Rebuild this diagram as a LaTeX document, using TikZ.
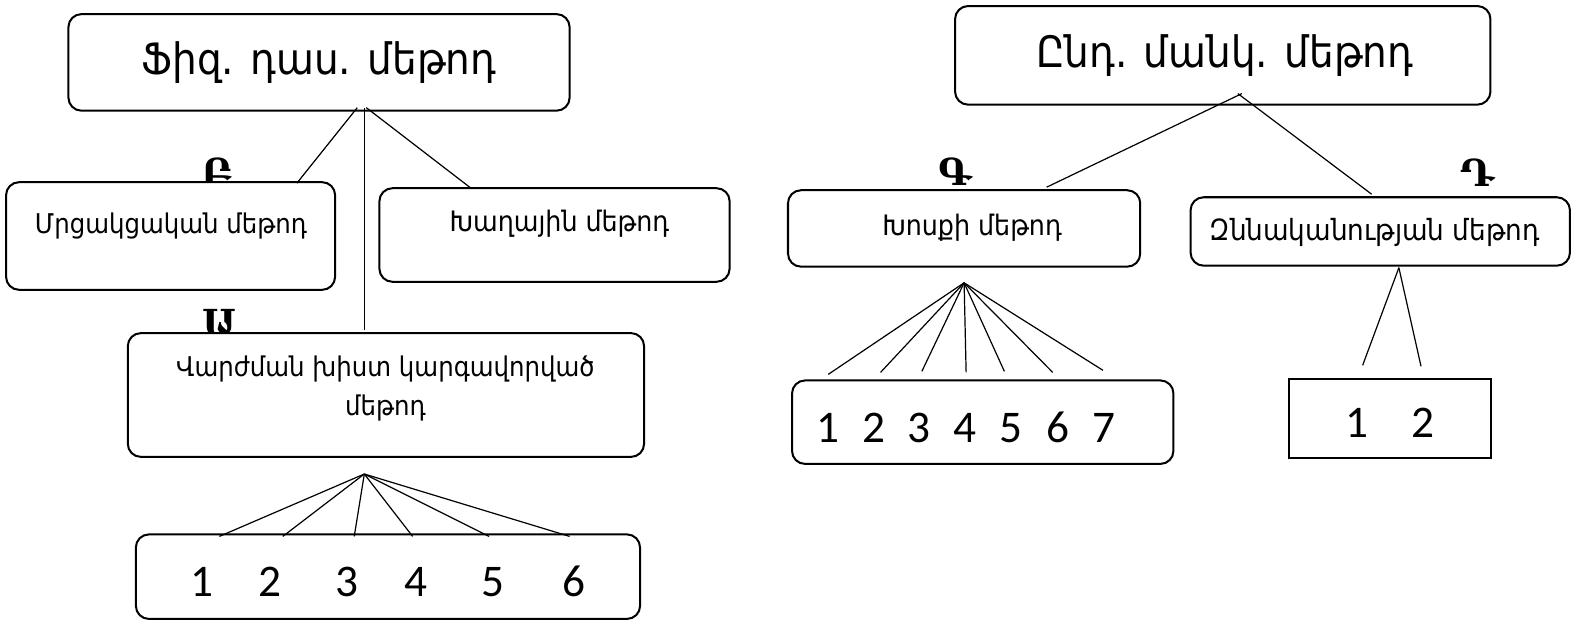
\documentclass[tikz,border=0pt]{standalone}
\usepackage{fontspec}
\setmainfont{DejaVu Sans Condensed}
\newfontfamily\digitfont{Carlito}
\newfontfamily\letterfont{DejaVu Serif}
\tikzset{
  x=1pt, y=-1pt,
  box/.style={draw, line width=2pt, rounded corners=13pt, fill=white,
    inner sep=0pt, outer sep=0pt},
  sqbox/.style={draw, line width=2pt, fill=white, inner sep=0pt, outer sep=0pt},
  conn/.style={line width=1.2pt},
  bigtxt/.style={inner sep=0pt, font=\fontsize{43}{47}\selectfont},
  txt/.style={inner sep=0pt, align=center},
  digit/.style={inner sep=0pt, font=\digitfont\fontsize{45}{50}\selectfont},
  tag/.style={inner sep=0pt, font=\letterfont\bfseries\fontsize{37}{40}\selectfont},
}
\newcommand\fs[1]{\fontsize{#1}{38}\selectfont}
\begin{document}
\begin{tikzpicture}
\useasboundingbox (0,0) rectangle (1568,618);

% letter tags (partly covered by the boxes drawn afterwards)
\node[tag] (tagB) at (216,171) {Բ};
\node[tag] (tagA) at (219,321) {Ա};
\node[tag] (tagG) at (949,171) {Գ};
\node[tag] (tagD) at (1468,172) {Դ};

% left tree
\node[box, minimum width=498pt, minimum height=96pt] (fiz) at (317,62) {};
\node[bigtxt] (fizt) at (317,62) {Ֆիզ. դաս. մեթոդ};

\node[box, minimum width=327pt, minimum height=107pt] (mrc) at (169.5,234.5) {};
\node[txt, font=\fs{27}] (mrct) at (170,225) {Մրցակցական մեթոդ};

\node[box, minimum width=348pt, minimum height=93pt] (xax) at (551,233.5) {};
\node[txt, font=\fs{28}] (xaxt) at (556,222) {Խաղային մեթոդ};

\node[box, minimum width=513pt, minimum height=123pt] (varj) at (383.5,392.5) {};
\node[txt, font=\fs{27}] (varjt) at (383,386) {Վարժման խիստ կարգավորված\\մեթոդ};

\node[box, minimum width=501pt, minimum height=84pt] (nl) at (385.5,573) {};
\foreach \n/\x in {1/201,2/268,3/345,4/413,5/490,6/570}
  \node[digit] (ld\n) at (\x,578) {\n};

% right tree
\node[box, minimum width=532pt, minimum height=98pt] (end) at (1215,55) {};
\node[bigtxt] (endt) at (1217,55) {Ընդ. մանկ. մեթոդ};

\node[box, minimum width=350pt, minimum height=76pt] (xos) at (958,227) {};
\node[txt, font=\fs{28}] (xost) at (966,226) {Խոսքի մեթոդ};

\node[box, minimum width=377pt, minimum height=68pt] (znn) at (1371.5,230) {};
\node[txt, font=\fs{29}] (znnt) at (1366,231) {Զննականության մեթոդ};

\node[box, minimum width=379pt, minimum height=83pt] (nr) at (976.5,419.5) {};
\foreach \n/\x in {1/823,2/868,3/913,4/959,5/1005,6/1051,7/1097}
  \node[digit] (rd\n) at (\x,425) {\n};

\node[sqbox, minimum width=201pt, minimum height=78pt] (nz) at (1381.5,416) {};
\node[digit] (zd1) at (1348,420) {1};
\node[digit] (zd2) at (1414,420) {2};

% connectors, drawn over the boxes
\coordinate (p1) at (355,107);
\coordinate (p2) at (362,107);
\coordinate (p3) at (364,107);
\coordinate (q1) at (295,182);
\coordinate (q2) at (362,328);
\coordinate (q3) at (468,187);
\coordinate (r1) at (1234,93);
\coordinate (r2) at (1230,93);
\coordinate (s1) at (1040,186);
\coordinate (s2) at (1363,193);

\draw[conn] (p1) -- (q1);
\draw[conn] (p2) -- (q2);
\draw[conn] (p3) -- (q3);
\draw[conn] (r1) -- (s1);
\draw[conn] (r2) -- (s2);

\coordinate (lf) at (362,471);
\foreach \n/\x in {1/218,2/281,3/352,4/410,5/486,6/566}
  \coordinate (lf\n) at (\x,533);
\foreach \n in {1,...,6}
  \draw[conn] (lf) -- (lf\n);

\coordinate (rf) at (958,281);
\foreach \n/\x/\y in {1/823/372,2/875/370,3/916/369,4/960/370,5/998/369,6/1046/370,7/1096/368}
  \coordinate (rf\n) at (\x,\y);
\foreach \n in {1,...,7}
  \draw[conn] (rf) -- (rf\n);

\coordinate (zf) at (1390,266);
\coordinate (zf1) at (1354,363);
\coordinate (zf2) at (1412,364);
\draw[conn] (zf) -- (zf1);
\draw[conn] (zf) -- (zf2);
\end{tikzpicture}
\end{document}
